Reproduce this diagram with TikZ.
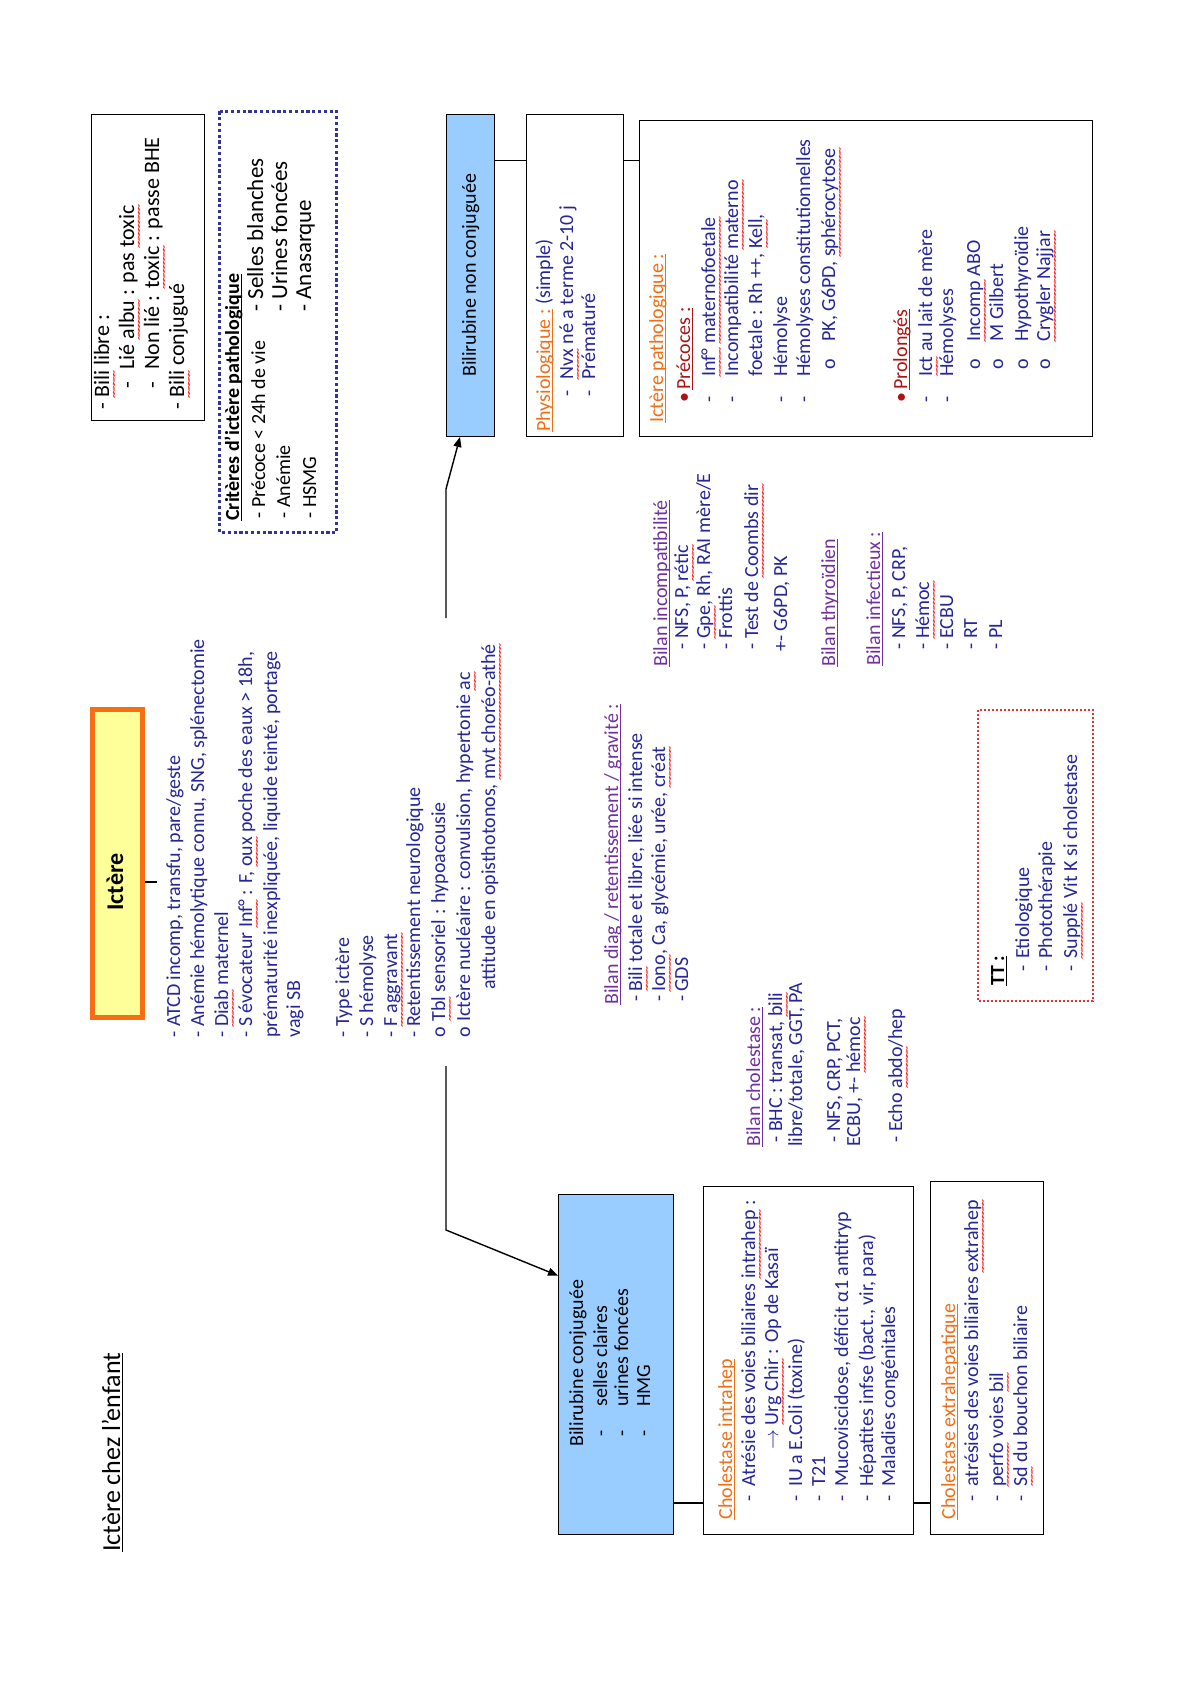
\documentclass[tikz,border=0pt]{standalone}
\usepackage{fontspec}
\setmainfont{Carlito}
\usetikzlibrary{arrows.meta,calc}
\definecolor{tb}{RGB}{38,38,150}
\definecolor{orng}{RGB}{242,110,20}
\definecolor{dred}{RGB}{170,20,20}
\definecolor{purp}{RGB}{112,48,160}
\definecolor{ictfill}{RGB}{255,255,153}
\definecolor{ictdraw}{RGB}{245,110,20}
\definecolor{bfill}{RGB}{153,204,255}
\definecolor{dnavy}{RGB}{51,51,153}
\definecolor{ttred}{RGB}{235,50,50}
\newsavebox\sqbox
\newsavebox\ulbox
\newcommand\sq[1]{\sbox\sqbox{#1}\rlap{\textcolor{red}{\hbox to\wd\sqbox{\xleaders\hbox{\raisebox{-4.2pt}{\fontsize{6}{6}\selectfont\kern-0.45pt\char"7E\kern-0.45pt}}\hfil}}}\usebox\sqbox}
\newcommand\ul[1]{\sbox\ulbox{#1}\rlap{\rule[-1.7pt]{\wd\ulbox}{0.55pt}}\usebox\ulbox}
\newcommand\txl[5][]{\node[txt,#1] (#2) at (#3,-#4-5) {#5};}
\tikzset{
  txt/.style={anchor=base west,inner sep=0pt,text=tb,font=\fontsize{10}{12}\selectfont},
  big/.style={font=\fontsize{11}{13}\selectfont},
  bigr/.style={font=\fontsize{11.5}{13}\selectfont},
  bx/.style={draw=black,line width=0.7pt,inner sep=0pt,anchor=north west},
  ln/.style={draw=black,line width=0.7pt},
  arr/.style={-{Triangle[length=5pt,width=4pt]}}
}
\begin{document}
\begin{tikzpicture}[x=0.5pt,y=0.5pt]
\useasboundingbox (0,0) rectangle (1191,-1684);
\begin{scope}[shift={(0,-1684)},rotate=90,transform shape]
% title
\node[anchor=base west,inner sep=0pt,font=\fontsize{13}{15}\selectfont] (title) at (132,-120) {\ul{Ictère chez l’enfant}};
% boxes
\node[bx,draw=ictdraw,line width=2.4pt,fill=ictfill,minimum width=154pt,minimum height=25pt] (ictere) at (664,-90) {};
\node[font=\bfseries\fontsize{12}{14}\selectfont,inner sep=0pt] (ictxt) at (802,-115) {Ictère};
\node[bx,minimum width=153pt,minimum height=56.5pt] (bililibre) at (1263,-91) {};
\node[bx,draw=dnavy,line width=1.6pt,dash pattern=on 1.6pt off 1.3pt,minimum width=210.5pt,minimum height=58.5pt] (criteres) at (1150,-218) {};
\node[bx,fill=bfill,minimum width=161pt,minimum height=24pt,font=\fontsize{10}{12}\selectfont] (nonconj) at (1247,-446) {Bilirubine non conjuguée};
\node[bx,minimum width=161pt,minimum height=48.5pt] (physio) at (1247,-526) {};
\node[bx,minimum width=158pt,minimum height=226.5pt] (patho) at (1247,-639) {};
\node[bx,draw=ttred,line width=1pt,dash pattern=on 1pt off 1pt,minimum width=145.5pt,minimum height=57.5pt] (tt) at (682,-977) {};
\node[bx,fill=bfill,minimum width=170pt,minimum height=57.5pt] (conj) at (149,-558) {};
\node[bx,minimum width=174pt,minimum height=105pt] (intra) at (149,-703) {};
\node[bx,minimum width=176.5pt,minimum height=56.5pt] (extra) at (149,-930) {};
% connectors
\coordinate (stub) at (802,-157);
\draw[ln] (ictere.south -| stub) -- (stub);
\coordinate (trA) at (1066,-446);
\coordinate (trB) at (1195,-446);
\draw[ln,arr] (trA) -- (trB) -- ($(nonconj.north west)+(0,-14)$);
\coordinate (tlA) at (618,-446);
\coordinate (tlB) at (454,-446);
\draw[ln,arr] (tlA) -- (tlB) -- ($(conj.north east)+(-82,0)$);
\draw[ln] ($(nonconj.south east)+(-47,0)$) -- ($(physio.north east)+(-47,0)$);
\draw[ln] ($(physio.south east)+(-47,0)$) -- ($(patho.north east)+(-41,0)$);
\draw[ln] ($(conj.south west)+(32,0)$) -- ($(intra.north west)+(32,0)$);
\draw[ln] ($(intra.south west)+(32,0)$) -- ($(extra.north west)+(32,0)$);
% main block
\txl{m1}{646}{175}{- ATCD incomp, transfu, pare/geste}
\txl{m2}{646}{199}{- Anémie hémolytique connu, SNG, splénectomie}
\txl{m3}{646}{223}{- \sq{Diab} maternel}
\txl{m4}{646}{247}{- S évocateur \sq{Inf°} : F, \sq{oux} poche des eaux > 18h,}
\txl{m5}{646}{272}{prématurité inexpliquée, liquide teinté, portage}
\txl{m6}{646}{295}{vagi SB}
\txl{m7}{646}{344}{- Type ictère}
\txl{m8}{646}{368}{- S hémolyse}
\txl{m9}{646}{392}{- \sq{F aggravant}}
\txl{m10}{646}{415}{- Retentissement neurologique}
\txl{m11}{646}{440}{\makebox[8pt][l]{o}\sq{Tbl} sensoriel : hypoacousie}
\txl{m12}{646}{465}{\makebox[8pt][l]{o}Ictère nucléaire : convulsion, hypertonie \sq{ac}}
\txl{m13}{694}{490}{attitude en opisthotonos, \sq{mvt choréo-athé}}
% bili libre
\txl[text=black,big]{b1}{1274}{104}{- \sq{Bili} libre :}
\txl[text=black,big]{b2}{1295}{129}{\makebox[9.5pt][l]{-}Lié \sq{albu} : pas \sq{toxic}}
\txl[text=black,big]{b3}{1295}{154}{\makebox[9.5pt][l]{-}Non lié : \sq{toxic} : passe BHE}
\txl[text=black,big]{b4}{1274}{179}{- \sq{Bili} conjugué}
% criteres
\txl[text=black,font=\bfseries\fontsize{10}{12}\selectfont]{c0}{1163}{234}{\ul{Critères d’ictère pathologique}}
\txl[text=black]{c1}{1165}{260}{- Précoce < 24h de vie}
\txl[text=black]{c2}{1165}{285}{- Anémie}
\txl[text=black]{c3}{1165}{311}{- HSMG}
\txl[text=black,bigr]{c4}{1372}{258}{- Selles blanches}
\txl[text=black,bigr]{c5}{1372}{282}{- Urines foncées}
\txl[text=black,bigr]{c6}{1372}{306}{- Anasarque}
% physiologique
\txl{p1}{1252}{545}{\textcolor{orng}{\ul{Physiologique :}} (simple)}
\txl{p2}{1287}{568}{\makebox[8.5pt][l]{-}\sq{Nvx} né a terme 2-10 j}
\txl{p3}{1287}{590}{\makebox[8.5pt][l]{-}Prématuré}
% pathologique
\txl[text=orng]{q0}{1261}{658}{\ul{Ictère pathologique :}}
\txl[text=dred]{q1}{1281}{685}{\makebox[6.5pt][l]{•}\ul{Précoces :}}
\txl{q2}{1281}{710}{\makebox[13pt][l]{-}\sq{Inf°} \sq{maternofoetale}}
\txl{q3}{1281}{733}{\makebox[13pt][l]{-}Incompatibilité \sq{materno}}
\txl{q4}{1307}{757}{foetale : Rh ++, \sq{Kell},}
\txl{q5}{1281}{782}{\makebox[13pt][l]{-}Hémolyse}
\txl{q6}{1281}{805}{\makebox[13pt][l]{-}Hémolyses constitutionnelles}
\txl{q7}{1314}{830}{\makebox[14pt][l]{o}PK, G6PD, \sq{sphérocytose}}
\txl[text=dred]{q8}{1281}{902}{\makebox[6.5pt][l]{•}\ul{Prolongés}}
\txl{q9}{1281}{927}{\makebox[13pt][l]{-}\sq{Ict} au lait de mère}
\txl{q10}{1281}{948}{\makebox[13pt][l]{-}Hémolyses}
\txl{q11}{1314}{975}{\makebox[14pt][l]{o}\sq{Incomp} ABO}
\txl{q12}{1314}{998}{\makebox[14pt][l]{o}M Gilbert}
\txl{q13}{1314}{1023}{\makebox[14pt][l]{o}Hypothyroïdie}
\txl{q14}{1314}{1045}{\makebox[14pt][l]{o}\sq{Crygler Najjar}}
% bilan diag
\txl[text=purp]{d0}{679}{613}{\ul{Bilan diag / retentissement / gravité :}}
\txl{d1}{682}{637}{\makebox[5pt][l]{-}\sq{Bili} totale et libre, liée si intense}
\txl{d2}{682}{660}{\makebox[5pt][l]{-}\sq{Iono}, Ca, glycémie, urée, \sq{créat}}
\txl{d3}{682}{683}{\makebox[5pt][l]{-}GDS}
% bilan incompatibilite
\txl[text=purp]{i0}{1017}{662}{\ul{Bilan incompatibilité}}
\txl{i1}{1034}{683}{- NFS, P, \sq{rétic}}
\txl{i2}{1034}{705}{- \sq{Gpe}, Rh, RAI mère/E}
\txl{i3}{1034}{727}{- Frottis}
\txl{i4}{1034}{753}{- Test de \sq{Coombs dir}}
\txl{i5}{1032}{782}{+- G6PD, PK}
\txl[text=purp]{i6}{1017}{830}{\ul{Bilan thyroïdien}}
\txl[text=purp]{i7}{1018}{875}{\ul{Bilan infectieux :}}
\txl{i8}{1034}{900}{- NFS, P, CRP,}
\txl{i9}{1034}{924}{- \sq{Hémoc}}
\txl{i10}{1034}{948}{- ECBU}
\txl{i11}{1034}{972}{- RT}
\txl{i12}{1034}{997}{- PL}
% bilan cholestase
\txl[text=purp]{h0}{537}{755}{\ul{Bilan cholestase :}}
\txl{h1}{541}{777}{- BHC : transat, \sq{bili}}
\txl{h2}{537}{797}{libre/totale, GGT, PA}
\txl{h3}{541}{835}{- NFS, CRP, PCT,}
\txl{h4}{537}{855}{ECBU, +- \sq{hémoc}}
\txl{h5}{541}{897}{- Echo \sq{abdo}/hep}
% TT
\txl[text=black,font=\bfseries\fontsize{10}{12}\selectfont]{t0}{698}{999}{\ul{TT :}}
\txl{t1}{712}{1024}{\makebox[6.5pt][l]{-}Etiologique}
\txl{t2}{712}{1047}{\makebox[6.5pt][l]{-}Photothérapie}
\txl{t3}{712}{1072}{\makebox[6.5pt][l]{-}\sq{Supplé} Vit K si cholestase}
% conjuguee
\txl[text=black]{g0}{237}{578}{Bilirubine conjuguée}
\txl[text=black]{g1}{247}{602}{\makebox[15pt][l]{-}selles claires}
\txl[text=black]{g2}{247}{623}{\makebox[15pt][l]{-}urines foncées}
\txl[text=black]{g3}{247}{645}{\makebox[15pt][l]{-}HMG}
% intrahep
\txl[text=orng]{n0}{164}{727}{\ul{Cholestase intrahep}}
\txl{n1}{182}{750}{\makebox[7.5pt][l]{-}Atrésie des voies biliaires \sq{intrahep} :}
\txl{n2}{234}{773}{$\rightarrow$ \sq{Urg Chir} : Op de Kasaï}
\txl{n3}{182}{797}{\makebox[7.5pt][l]{-}IU a E.Coli (toxine)}
\txl{n4}{182}{820}{\makebox[7.5pt][l]{-}T21}
\txl{n5}{182}{843}{\makebox[7.5pt][l]{-}Mucoviscidose, déficit α1 antitryp}
\txl{n6}{182}{868}{\makebox[7.5pt][l]{-}Hépatites infse (bact., vir, para)}
\txl{n7}{182}{890}{\makebox[7.5pt][l]{-}Maladies congénitales}
% extrahep
\txl[text=orng]{e0}{164}{950}{\ul{Cholestase extrahepatique}}
\txl{e1}{182}{973}{\makebox[7.5pt][l]{-}atrésies des voies biliaires \sq{extrahep}}
\txl{e2}{182}{998}{\makebox[7.5pt][l]{-}\sq{perfo} voies \sq{bil}}
\txl{e3}{182}{1022}{\makebox[7.5pt][l]{-}\sq{Sd} du bouchon biliaire}
\end{scope}
\end{tikzpicture}
\end{document}
